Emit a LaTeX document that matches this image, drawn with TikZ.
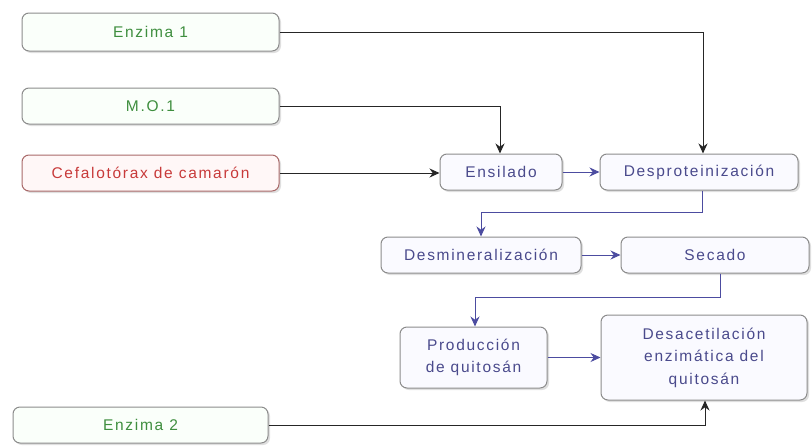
\documentclass[tikz,border=0pt]{standalone}
\usepackage{fontspec}
\setmainfont{Liberation Sans}[LetterSpace=11]
\usetikzlibrary{arrows.meta,shadows}
\definecolor{gtext}{HTML}{3E8E3E}
\definecolor{rtext}{HTML}{C83A3A}
\definecolor{btext}{HTML}{4A4A8C}
\definecolor{bline}{HTML}{4C4CA0}
\definecolor{bord}{HTML}{8C8C8C}
\tikzset{
  box/.style={draw=bord, line width=1pt, rounded corners=7pt, inner sep=0pt,
    font=\fontsize{15.5}{22.5}\selectfont, align=center,
    drop shadow={shadow xshift=2pt, shadow yshift=-2pt, opacity=0.25, fill=gray}},
  gbox/.style={box, fill=green!2, text=gtext},
  rbox/.style={box, fill=red!3, text=rtext, draw=bord!75!red},
  pbox/.style={box, fill=blue!2, text=btext},
  inarrow/.style={draw=black!85, line width=0.9pt, -{Stealth[length=10pt,width=9pt]}},
  parrow/.style={draw=bline, line width=0.9pt, -{Stealth[length=10pt,width=9pt]}}
}
\begin{document}
\begin{tikzpicture}[x=1pt,y=-1pt]
\useasboundingbox[fill=white] (0,0) rectangle (812,445);
\node[gbox, minimum width=257pt, minimum height=38pt] (enz1) at (150.5,32) {Enzima 1};
\node[gbox, minimum width=257pt, minimum height=36pt] (mo) at (150.5,106) {M.O.1};
\node[rbox, minimum width=257pt, minimum height=36pt] (cef) at (150.5,173) {Cefalotórax de camarón};
\node[pbox, minimum width=122pt, minimum height=36pt] (ens) at (501,172) {Ensilado};
\node[pbox, minimum width=198pt, minimum height=36pt] (desp) at (699,172) {Desproteinización};
\node[pbox, minimum width=200pt, minimum height=36pt] (desm) at (481,255) {Desmineralización};
\node[pbox, minimum width=188pt, minimum height=36pt] (sec) at (715,255) {Secado};
\node[pbox, minimum width=147pt, minimum height=61pt] (prod) at (473.5,357.5) {Producción\\de quitosán};
\node[pbox, minimum width=206pt, minimum height=85pt] (desa) at (704,357.5) {Desacetilación\\enzimática del\\quitosán};
\node[gbox, minimum width=255pt, minimum height=36pt] (enz2) at (140.5,425) {Enzima 2};
\coordinate (c1) at (703,32);
\coordinate (c2) at (500,106);
\draw[inarrow] (enz1.east) -- (c1) -- (c1 |- desp.north);
\draw[inarrow] (mo.east) -- (c2) -- (c2 |- ens.north);
\draw[inarrow] (cef.east) -- (cef.east -| ens.west);
\draw[parrow] (ens.east) -- (desp.west);
\coordinate (d1) at (702,212);
\coordinate (d2) at (481,212);
\draw[parrow] (d1 |- desp.south) -- (d1) -- (d2) -- (d2 |- desm.north);
\draw[parrow] (desm.east) -- (sec.west);
\coordinate (s1) at (720,297);
\coordinate (s2) at (475,297);
\draw[parrow] (s1 |- sec.south) -- (s1) -- (s2) -- (s2 |- prod.north);
\draw[parrow] (prod.east) -- (prod.east -| desa.west);
\coordinate (e1) at (705,425);
\draw[inarrow] (enz2.east) -- (e1) -- (e1 |- desa.south);
\end{tikzpicture}
\end{document}
